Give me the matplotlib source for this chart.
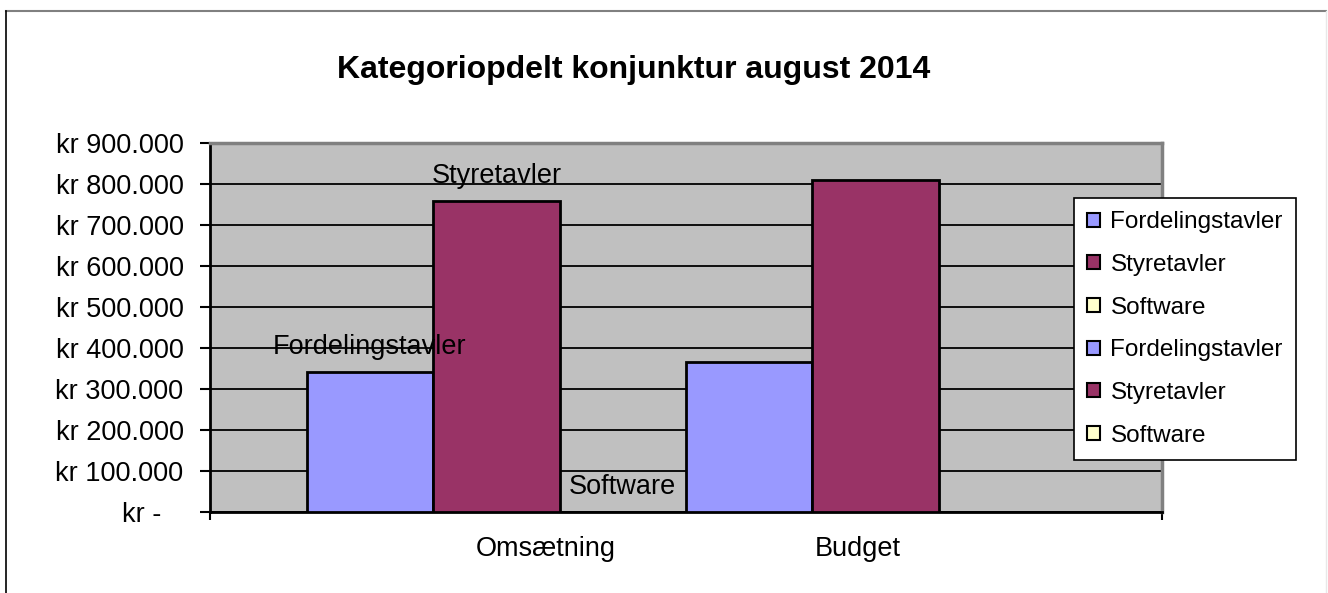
import matplotlib.pyplot as plt
from matplotlib.patches import Patch
from matplotlib.lines import Line2D
from matplotlib.ticker import FuncFormatter

plt.rcParams['font.family'] = ['Liberation Sans', 'DejaVu Sans']

# data (kr)
series = ["Fordelingstavler", "Styretavler", "Software",
          "Fordelingstavler", "Styretavler", "Software"]
values = [341000, 758000, 0, 366000, 810000, 0]
colors = ["#9999FF", "#993366", "#FFFFCC", "#9999FF", "#993366", "#FFFFCC"]
show_label = [True, True, True, False, False, False]
categories = ["Omsætning", "Budget"]
cat_pos = [1.39, 3.86]

W, H = 1328, 593
fig = plt.figure(figsize=(W / 100, H / 100), dpi=100)
ax = fig.add_axes([210 / W, 1 - 512 / H, (1162 - 210) / W, (512 - 143) / H])
ax.set_facecolor("#C0C0C0")

x = list(range(len(values)))
ax.set_axisbelow(True)
ax.yaxis.grid(True, color="black", linewidth=1.3)
ax.bar(x, values, width=1.0, color=colors, edgecolor="black", linewidth=2, zorder=3)

for xi, v, name, show in zip(x, values, series, show_label):
    if show:
        ax.annotate(name, (xi, v), xytext=(0, 18), textcoords="offset points",
                    ha="center", va="center", fontsize=19.5, zorder=5)

ax.set_xlim(-1.266, 6.266)
ax.set_ylim(0, 900000)
ax.set_yticks(range(0, 900001, 100000))


def kr(v, pos):
    if v == 0:
        return "kr -   "
    return "kr " + f"{int(v):,}".replace(",", ".")


ax.yaxis.set_major_formatter(FuncFormatter(kr))
ax.tick_params(axis="y", length=7, width=1.5, direction="out", labelsize=19.5, pad=12)

ax.set_xticks([-1.266, 6.266])
ax.set_xticklabels(["", ""])
ax.tick_params(axis="x", which="major", length=6, width=1.5, direction="out")
ax.set_xticks(cat_pos, minor=True)
ax.set_xticklabels(categories, minor=True, fontsize=19.5)
ax.tick_params(axis="x", which="minor", length=0, pad=17)

for s in ["left", "bottom"]:
    ax.spines[s].set_color("black")
    ax.spines[s].set_linewidth(2)
for s in ["top", "right"]:
    ax.spines[s].set_color("#808080")
    ax.spines[s].set_linewidth(2.5)

fig.text(634 / W, 1 - 70 / H, "Kategoriopdelt konjunktur august 2014",
         ha="center", va="center", fontsize=23, fontweight="bold")

handles = [Patch(facecolor=c, edgecolor="black", linewidth=1.5) for c in colors]
leg = fig.legend(handles, series, loc="upper left",
                 bbox_to_anchor=(1074 / W, 1 - 198 / H), fontsize=17.5,
                 frameon=True, fancybox=False, framealpha=1,
                 handlelength=0.5, handleheight=0.5,
                 handletextpad=0.45, labelspacing=0.85, borderpad=0.55, borderaxespad=0)
leg.get_frame().set_edgecolor("black")
leg.get_frame().set_linewidth(1.2)

# chart frame
fig.add_artist(Line2D([6 / W, 1326 / W], [1 - 11 / H, 1 - 11 / H], color="#808080", linewidth=1.5))
fig.add_artist(Line2D([6 / W, 6 / W], [0, 1 - 11 / H], color="black", linewidth=1.2))
fig.add_artist(Line2D([1326 / W, 1326 / W], [0, 1 - 11 / H], color="#E8E8E8", linewidth=1.0))

fig.savefig("out.png", dpi=100)
